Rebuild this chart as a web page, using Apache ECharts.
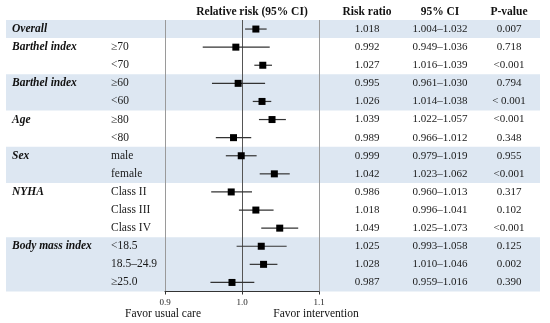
<!DOCTYPE html>
<html>
<head>
<meta charset="utf-8">
<script src="https://cdn.jsdelivr.net/npm/echarts@6/dist/echarts.min.js"></script>
<style>html,body{margin:0;padding:0;background:#fff;}#c{width:550px;height:323px;}</style>
</head>
<body>
<div id="c"></div>
<script>
const groups = ['Overall','Barthel index','','Barthel index','','Age','','Sex','','NYHA','','','Body mass index','',''];
const subgroups = ['','≥70','<70','≥60','<60','≥80','<80','male','female','Class II','Class III','Class IV','<18.5','18.5–24.9','≥25.0'];
const riskRatio = [1.018,0.992,1.027,0.995,1.026,1.039,0.989,0.999,1.042,0.986,1.018,1.049,1.025,1.028,0.987];
const ciLow = [1.004,0.949,1.016,0.961,1.014,1.022,0.966,0.979,1.023,0.960,0.996,1.025,0.993,1.010,0.959];
const ciHigh = [1.032,1.036,1.039,1.030,1.038,1.057,1.012,1.019,1.062,1.013,1.041,1.073,1.058,1.046,1.016];
const pValues = ['0.007','0.718','<0.001','0.794','< 0.001','<0.001','0.348','0.955','<0.001','0.317','0.102','<0.001','0.125','0.002','0.390'];
const shadedRows = [1,0,0,1,1,0,0,1,1,0,0,0,1,1,1];
const xTicks = [0.9, 1.0, 1.1];

const FONT = '"Liberation Serif", "DejaVu Serif", serif';
const rowIdx = riskRatio.map((_, i) => String(i));
const chart = echarts.init(document.getElementById('c'), null, {renderer: 'canvas'});

// contiguous shaded row runs [start, end]
const bandRuns = [];
shadedRows.forEach((s, i) => {
  if (!s) return;
  const last = bandRuns[bandRuns.length - 1];
  if (last && last[1] === i - 1) last[1] = i; else bandRuns.push([i, i]);
});

function labelAxis(position, margin, align, fmt, style) {
  return {
    type: 'category', gridIndex: 0, position: position, inverse: true,
    data: rowIdx, axisLine: {show: false}, axisTick: {show: false}, splitLine: {show: false},
    axisLabel: Object.assign({margin: margin, align: align, fontFamily: FONT, fontSize: 11.5, color: '#1a1a1a', formatter: fmt}, style || {})
  };
}

const hdr = (text, x, y, bold) => ({type: 'text', x: x, y: y,
  style: {text: text, fontFamily: FONT, fontSize: 11.5, fontWeight: bold ? 'bold' : 'normal', fill: '#111', textAlign: 'center', textVerticalAlign: 'middle'}});

const option = {
  animation: false,
  textStyle: {fontFamily: FONT},
  grid: [
    {left: 165, right: 231, top: 20, bottom: 31.5},
    {left: 6, right: 10, top: 20, bottom: 31.5}
  ],
  xAxis: [
    {type: 'value', gridIndex: 0, min: xTicks[0], max: xTicks[2], interval: 0.1, z: 5,
     axisLine: {show: true, lineStyle: {color: '#333', width: 1}},
     axisTick: {show: true, length: 3, lineStyle: {color: '#333'}},
     axisLabel: {fontFamily: FONT, fontSize: 9, color: '#222', margin: 7, formatter: v => v.toFixed(1)},
     splitLine: {show: true, lineStyle: {color: ['#9a9a9a', '#555', '#9a9a9a'], width: 1}}},
    {type: 'value', gridIndex: 1, min: 0, max: 1, show: false}
  ],
  yAxis: [
    labelAxis('left', 54, 'left', (v, i) => subgroups[i]),
    labelAxis('left', 153, 'left', (v, i) => groups[i], {fontWeight: 'bold', fontStyle: 'italic', color: '#111'}),
    labelAxis('right', 48, 'center', (v, i) => riskRatio[i].toFixed(3), {fontSize: 11}),
    labelAxis('right', 121, 'center', (v, i) => ciLow[i].toFixed(3) + '–' + ciHigh[i].toFixed(3), {fontSize: 11}),
    labelAxis('right', 190, 'center', (v, i) => pValues[i], {fontSize: 11}),
    {type: 'category', gridIndex: 1, inverse: true, data: rowIdx, show: false}
  ],
  graphic: [
    hdr('Relative risk (95% CI)', 252, 12, true),
    hdr('Risk ratio', 367, 12, true),
    hdr('95% CI', 440, 12, true),
    hdr('P-value', 509, 12, true),
    hdr('Favor usual care', 163, 314, false),
    hdr('Favor intervention', 316, 314, false)
  ],
  series: [
    {type: 'custom', xAxisIndex: 1, yAxisIndex: 5, z: 0, silent: true,
     data: bandRuns.map(r => [0, 1, r[0], r[1]]),
     encode: {x: [0, 1], y: [2, 3]},
     renderItem: function (params, api) {
       const a = api.coord([api.value(0), api.value(2)]);
       const b = api.coord([api.value(1), api.value(3)]);
       const h = api.size([0, 1])[1];
       return {type: 'rect', shape: {x: a[0], y: a[1] - h / 2, width: b[0] - a[0], height: b[1] - a[1] + h},
               style: {fill: '#dde7f2'}};
     }},
    {type: 'custom', xAxisIndex: 0, yAxisIndex: 0, z: 10, silent: true,
     data: riskRatio.map((v, i) => [ciLow[i], ciHigh[i], v, i]),
     encode: {x: [0, 1, 2], y: 3},
     renderItem: function (params, api) {
       const yi = api.value(3);
       const p1 = api.coord([api.value(0), yi]);
       const p2 = api.coord([api.value(1), yi]);
       const pc = api.coord([api.value(2), yi]);
       const s = 7;
       return {type: 'group', children: [
         {type: 'line', shape: {x1: p1[0], y1: p1[1], x2: p2[0], y2: p2[1]}, style: {stroke: '#333', lineWidth: 1.2}},
         {type: 'rect', shape: {x: pc[0] - s / 2, y: pc[1] - s / 2, width: s, height: s}, style: {fill: '#000'}}
       ]};
     }}
  ]
};
chart.setOption(option);
</script>
</body>
</html>
